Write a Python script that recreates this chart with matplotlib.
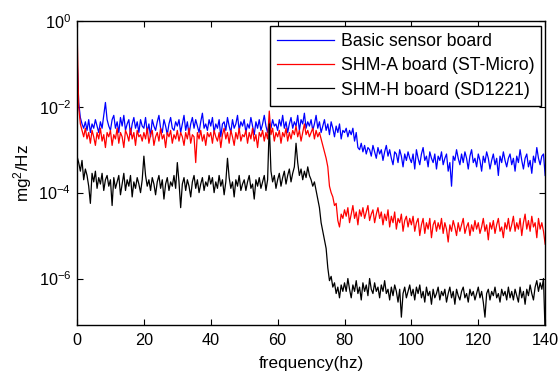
import numpy as np
import matplotlib
matplotlib.use("Agg")
import matplotlib.pyplot as plt
from matplotlib.ticker import FixedLocator, NullLocator, LogFormatterMathtext

plt.rcParams['font.family'] = ['Liberation Sans', 'DejaVu Sans']
plt.rcParams['mathtext.default'] = 'regular'

# frequency axis, 0.5 Hz resolution
freq_step = 0.5
freq_max = 140

# log10 of PSD values (mg^2/Hz)
basic_log = [
    -0.8, -1.9, -2.25, -2.4, -2.5, -2.35, -2.55, -2.3, -2.6, -2.4, -2.5, -2.3, -2.45, -2.6, -2.35, -2.5, -2.2, -1.9, -2.3, -2.45,
    -2.55, -2.3, -2.2, -2.5, -2.35, -2.6, -2.25, -2.45, -2.2, -2.55, -2.4, -2.3, -2.65, -2.4, -2.25, -2.5, -2.35, -2.6, -2.3, -2.45,
    -2.5, -2.25, -2.6, -2.4, -2.7, -2.3, -2.45, -2.55, -2.35, -2.2, -2.5, -2.6, -2.3, -2.45, -2.65, -2.4, -2.25, -2.5, -2.55, -2.35,
    -2.45, -2.3, -2.6, -2.4, -2.2, -2.55, -2.35, -2.65, -2.4, -2.25, -2.5, -2.3, -2.45, -2.6, -2.35, -2.15, -2.5, -2.4, -2.55, -2.3,
    -2.45, -2.25, -2.6, -2.4, -2.5, -2.3, -2.7, -2.4, -2.35, -2.55, -2.25, -2.45, -2.6, -2.3, -2.5, -2.4, -2.2, -2.55, -2.35, -2.45,
    -2.3, -2.6, -2.4, -2.5, -2.25, -2.45, -2.65, -2.35, -2.5, -2.3, -2.55, -2.4, -2.2, -2.45, -2.6, -2.35, -2.5, -2.3, -2.45, -2.4,
    -2.55, -2.3, -2.45, -2.2, -2.5, -2.35, -2.6, -2.4, -2.25, -2.5, -2.35, -2.45, -2.2, -2.55, -2.3, -2.4, -2.15, -2.5, -2.35, -2.45,
    -2.3, -2.55, -2.4, -2.2, -2.5, -2.35, -2.6, -2.45, -2.3, -2.55, -2.4, -2.65, -2.35, -2.5, -2.7, -2.45, -2.6, -2.4, -2.75, -2.55,
    -2.6, -2.5, -2.7, -2.55, -2.65, -2.5, -2.8, -2.6, -2.95, -3.0, -2.85, -3.05, -2.9, -3.1, -2.95, -3.0, -3.15, -2.9, -3.05, -3.2,
    -2.95, -3.1, -3.0, -3.25, -3.05, -2.9, -3.15, -3.0, -3.2, -3.35, -3.05, -3.1, -3.3, -3.0, -3.15, -3.4, -3.1, -3.25, -3.05, -3.2,
    -3.3, -3.1, -3.45, -3.0, -3.2, -3.35, -3.1, -2.95, -3.25, -3.15, -3.4, -3.05, -3.2, -3.3, -3.1, -3.45, -3.15, -3.25, -3.05, -3.35,
    -3.2, -3.1, -3.5, -3.3, -3.85, -3.15, -3.25, -3.0, -3.2, -3.35, -3.1, -3.3, -3.05, -3.2, -3.45, -3.15, -3.0, -3.3, -3.2, -3.4,
    -3.1, -3.25, -3.5, -3.15, -3.3, -3.05, -3.2, -3.45, -3.25, -3.1, -3.35, -3.2, -3.6, -3.15, -3.3, -3.05, -3.25, -3.4, -3.2, -3.1,
    -3.35, -3.2, -3.5, -3.15, -3.3, -3.0, -3.25, -3.45, -3.2, -3.1, -3.4, -3.25, -3.55, -3.15, -3.3, -2.95, -3.2, -3.35, -3.15, -3.1,
    -3.6,
]

shm_a_log = [
    -0.1, -2.0, -2.4, -2.55, -2.7, -2.5, -2.75, -2.6, -2.85, -2.55, -2.7, -2.9, -2.6, -2.75, -2.5, -2.8, -2.65, -2.95, -2.6, -2.7,
    -2.55, -2.9, -2.65, -2.75, -2.5, -2.85, -2.6, -2.7, -2.95, -2.55, -2.65, -2.8, -2.5, -2.75, -2.6, -2.9, -2.55, -2.7, -2.65, -2.8,
    -2.6, -2.75, -2.5, -2.85, -2.65, -2.55, -2.9, -2.7, -2.6, -2.8, -2.5, -2.75, -2.65, -2.95, -2.6, -2.7, -2.55, -2.85, -2.65, -2.75,
    -2.55, -2.8, -2.6, -2.7, -2.9, -2.6, -2.75, -2.5, -2.85, -2.65, -2.7, -3.3, -2.6, -2.75, -2.55, -2.8, -2.65, -2.9, -2.6, -2.7,
    -2.6, -2.85, -2.55, -2.7, -2.8, -2.6, -2.95, -2.65, -2.5, -2.75, -2.6, -2.85, -2.55, -2.7, -2.9, -2.6, -2.75, -2.5, -2.8, -2.65,
    -2.7, -2.55, -2.85, -2.6, -2.75, -2.5, -2.8, -2.65, -2.95, -2.6, -2.7, -2.55, -2.8, -2.6, -2.75, -2.1, -2.65, -2.5, -2.8, -2.6,
    -2.7, -2.55, -2.85, -2.6, -2.7, -2.5, -2.8, -2.6, -2.75, -2.55, -2.65, -2.45, -2.7, -2.55, -2.8, -2.6, -2.4, -2.65, -2.55, -2.7,
    -2.6, -2.5, -2.75, -2.55, -2.7, -2.6, -2.75, -2.9, -3.05, -3.2, -3.4, -3.85, -4.0, -4.1, -4.3, -4.25, -4.65, -4.8, -4.5, -4.6,
    -4.4, -4.55, -4.35, -4.7, -4.5, -4.3, -4.6, -4.45, -4.75, -4.4, -4.55, -4.35, -4.6, -4.45, -4.3, -4.65, -4.5, -4.4, -4.7, -4.5,
    -4.35, -4.6, -4.45, -4.75, -4.5, -4.65, -4.4, -4.8, -4.55, -4.7, -4.45, -4.85, -4.6, -4.7, -4.5, -4.9, -4.65, -4.55, -4.8, -4.6,
    -4.75, -4.55, -4.9, -4.7, -4.6, -5.0, -4.75, -4.6, -4.95, -4.7, -4.85, -4.6, -5.05, -4.75, -4.65, -4.9, -4.7, -4.85, -4.6, -4.95,
    -4.7, -4.85, -5.15, -4.75, -4.9, -4.65, -4.8, -5.0, -4.7, -4.9, -4.75, -4.6, -4.95, -4.8, -4.7, -5.0, -4.75, -4.9, -4.65, -4.85,
    -4.7, -4.95, -4.8, -4.6, -4.9, -4.75, -5.1, -4.7, -4.85, -4.65, -4.95, -4.75, -4.6, -4.9, -4.8, -5.05, -4.7, -4.85, -4.6, -4.9,
    -4.75, -4.55, -4.9, -4.7, -4.85, -4.6, -5.0, -4.7, -4.5, -4.85, -4.65, -4.9, -4.55, -4.8, -4.7, -5.05, -4.6, -4.85, -4.7, -4.9,
    -5.2,
]

shm_h_log = [
    -3.15, -3.3, -3.5, -3.25, -3.7, -3.45, -3.6, -3.85, -4.25, -3.55, -3.75, -3.5, -3.9, -3.65, -3.8, -3.55, -3.95, -3.7, -3.6, -3.85,
    -3.7, -4.3, -3.65, -3.9, -3.75, -3.6, -4.05, -3.8, -3.55, -3.95, -3.7, -3.85, -3.6, -4.1, -3.75, -3.9, -3.65, -3.8, -4.0, -3.7,
    -3.15, -3.6, -3.85, -3.7, -3.95, -3.65, -3.8, -4.05, -3.75, -3.6, -3.9, -3.7, -4.15, -3.8, -3.65, -3.95, -3.75, -3.85, -3.6, -3.9,
    -3.3, -3.75, -4.35, -3.8, -3.65, -3.95, -3.7, -3.85, -4.1, -3.75, -3.6, -3.9, -3.7, -4.0, -3.8, -3.65, -3.95, -3.75, -3.85, -3.6,
    -3.8, -3.65, -4.0, -3.75, -3.9, -3.6, -3.85, -3.7, -4.05, -3.75, -3.2, -3.65, -3.9, -3.75, -4.1, -3.7, -3.85, -3.6, -3.95, -3.8,
    -3.7, -3.95, -3.75, -3.6, -3.9, -3.8, -4.15, -3.7, -3.85, -3.65, -3.9, -3.75, -3.6, -3.95, -3.7, -2.4, -3.5, -3.75, -3.6, -3.9,
    -3.7, -3.55, -3.85, -3.65, -3.5, -3.8, -3.6, -3.45, -3.75, -3.55, -3.4, -2.85, -3.3, -3.6, -3.45, -3.7, -3.5, -3.65, -3.4, -3.6,
    -3.7, -3.85, -3.75, -3.95, -4.15, -4.35, -4.7, -4.9, -5.1, -5.3, -5.75, -6.05, -5.95, -6.2, -6.1, -6.35, -6.2, -6.45, -6.15, -6.3,
    -6.1, -6.3, -6.0, -6.25, -6.45, -6.15, -6.3, -6.05, -6.35, -6.2, -6.5, -6.1, -6.3, -6.15, -6.4, -6.0, -6.25, -6.35, -6.1, -6.3,
    -6.2, -6.45, -6.15, -6.3, -6.05, -6.35, -6.25, -6.5, -6.2, -6.4, -6.15, -6.3, -6.55, -6.25, -6.9, -6.35, -6.2, -6.45, -6.3, -6.15,
    -6.4, -6.25, -6.5, -6.2, -6.35, -6.15, -6.45, -6.3, -6.55, -6.2, -6.4, -6.3, -6.6, -6.25, -6.45, -6.35, -6.2, -6.5, -6.3, -6.4,
    -6.25, -6.55, -6.35, -6.2, -6.45, -6.3, -6.6, -6.25, -6.4, -6.5, -6.3, -6.2, -6.45, -6.35, -6.55, -6.25, -6.4, -6.3, -6.5, -6.35,
    -6.2, -6.45, -6.3, -6.55, -6.9, -6.35, -6.25, -6.5, -6.3, -6.4, -6.2, -6.45, -6.35, -6.55, -6.25, -6.4, -6.3, -6.5, -6.2, -6.45,
    -6.3, -6.5, -6.25, -6.4, -6.55, -6.2, -6.45, -6.3, -6.6, -6.25, -6.4, -6.15, -6.35, -6.5, -6.2, -6.05, -6.3, -6.1, -6.25, -6.0,
    -7.3,
]

labels = ["Basic sensor board", "SHM-A board (ST-Micro)", "SHM-H board (SD1221)"]
colors = ["#0000ff", "#ff0000", "#000000"]
xticks = [0, 20, 40, 60, 80, 100, 120, 140]
yticks = [1e0, 1e-2, 1e-4, 1e-6]

freq = np.arange(len(basic_log)) * freq_step

fig = plt.figure(figsize=(5.6, 3.73), dpi=100)
ax = fig.add_axes([0.1375, 0.129, 0.836, 0.815])

for vals, c, lab in zip([basic_log, shm_a_log, shm_h_log], colors, labels):
    ax.plot(freq, 10.0 ** np.array(vals), color=c, lw=0.9, label=lab)

ax.set_yscale('log')
ax.set_xlim(0, freq_max)
ax.set_ylim(10 ** -7.08, 1e0)
ax.xaxis.set_major_locator(FixedLocator(xticks))
ax.yaxis.set_major_locator(FixedLocator(yticks))
ax.yaxis.set_minor_locator(NullLocator())
ax.yaxis.set_major_formatter(LogFormatterMathtext())
ax.tick_params(direction='in', top=True, right=True, length=4, width=0.8,
               labelsize=11.7)
ax.tick_params(axis='x', pad=6)
ax.tick_params(axis='y', pad=4)
for s in ax.spines.values():
    s.set_linewidth(1.0)

ax.set_xlabel("frequency(hz)", fontsize=12.3, labelpad=5.5)
ax.set_ylabel("mg$^2$/Hz", fontsize=12.3, labelpad=3)

leg = ax.legend(loc='upper right', bbox_to_anchor=(0.992, 0.984), fontsize=12.7,
                frameon=True, fancybox=False, edgecolor='black', framealpha=1,
                handlelength=3.2, handletextpad=0.4, labelspacing=0.42,
                borderpad=0.4, borderaxespad=0)
leg.get_frame().set_linewidth(1.0)
for line in leg.get_lines():
    line.set_linewidth(0.9)

fig.savefig("out.png", dpi=100)
